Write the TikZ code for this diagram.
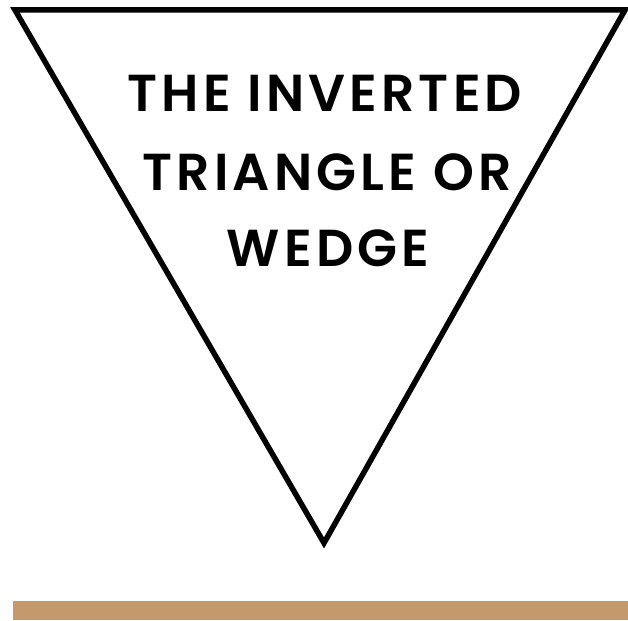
\documentclass[tikz,border=0pt]{standalone}
\usepackage{fontspec}
\setmainfont{Poppins}[UprightFont=* SemiBold, BoldFont=* Bold]
\definecolor{barbrown}{RGB}{196,154,108}
\tikzset{
  wedgeline/.style={draw=black, line width=5.5pt, line join=miter},
  title/.style={font=\fontsize{52}{52}\selectfont\addfontfeatures{LetterSpace=8}, text=black, inner sep=0pt, anchor=center},
}
\begin{document}
\begin{tikzpicture}[x=1pt,y=-1pt]
\useasboundingbox (0,0) rectangle (628,620);
\fill[white] (0,0) rectangle (628,620);
\coordinate (tl) at (15,10);
\coordinate (tr) at (625,10);
\coordinate (apex) at (324,543);
\draw[wedgeline] (tl) -- (tr) -- (apex) -- cycle;
\node[title] (l1) at (325,93.5) {THE INVERTED};
\node[title] (l2) at (327,172.5) {TRIANGLE OR};
\node[title] (l3) at (328,248.5) {WEDGE};
\fill[barbrown] (13,601) rectangle (628,620);
\end{tikzpicture}
\end{document}
